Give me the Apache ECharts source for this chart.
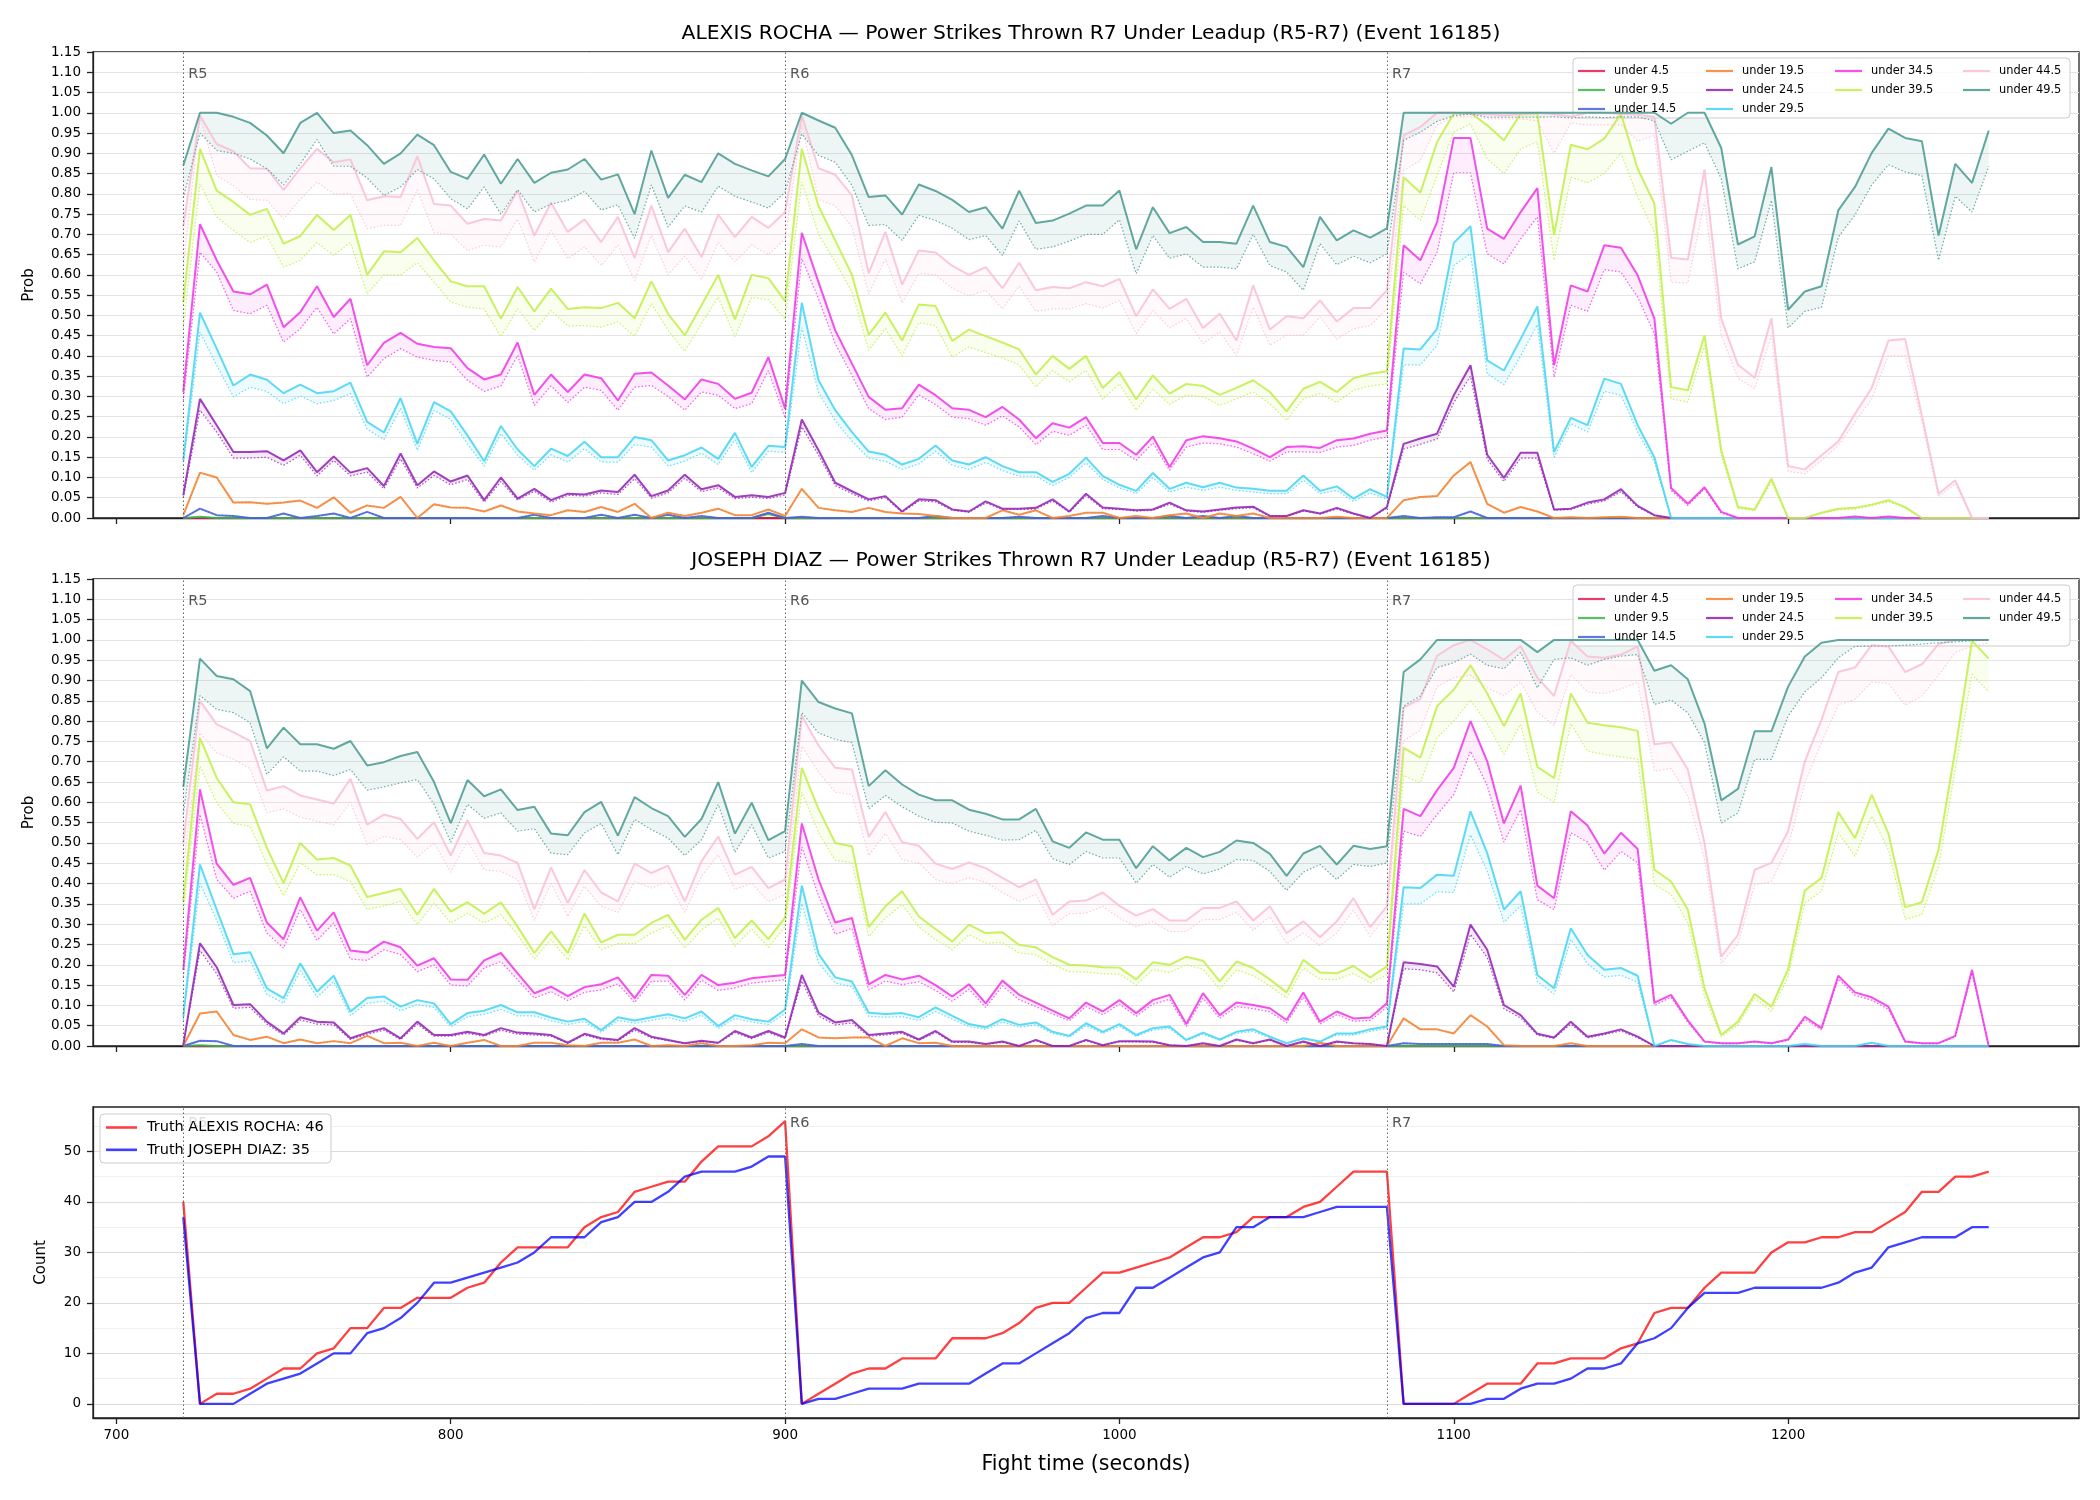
<!doctype html>
<html>
<head>
<meta charset="utf-8">
<title>Power Strikes Thrown R7 Under Leadup</title>
<script src="https://cdn.jsdelivr.net/npm/echarts@6/dist/echarts.min.js"></script>
<style>
  html, body { margin: 0; padding: 0; background: #fff; }
  #chart { width: 2100px; height: 1500px; }
</style>
</head>
<body>
<div id="chart"></div>
<script>
// ---- data ----
var fightTime = [720,725,730,735,740,745,750,755,760,765,
  770,775,780,785,790,795,800,805,810,815,
  820,825,830,835,840,845,850,855,860,865,
  870,875,880,885,890,895,900,905,910,915,
  920,925,930,935,940,945,950,955,960,965,
  970,975,980,985,990,995,1000,1005,1010,1015,
  1020,1025,1030,1035,1040,1045,1050,1055,1060,1065,
  1070,1075,1080,1085,1090,1095,1100,1105,1110,1115,
  1120,1125,1130,1135,1140,1145,1150,1155,1160,1165,
  1170,1175,1180,1185,1190,1195,1200,1205,1210,1215,
  1220,1225,1230,1235,1240,1245,1250,1255,1260];

var bucketNames = ['under 4.5','under 9.5','under 14.5','under 19.5','under 24.5',
  'under 29.5','under 34.5','under 39.5','under 44.5','under 49.5'];
var bucketColors = ['#e6194b','#3cb44b','#4363d8','#f58231','#911eb4',
  '#42d4f4','#f032e6','#bfef45','#fabed4','#469990'];

var xTicks = [700, 800, 900, 1000, 1100, 1200];
var countTicks = [0, 10, 20, 30, 40, 50];
var countMinorTicks = [5, 15, 25, 35, 45, 55];
var rounds = [720, 900, 1080];
var roundNames = ['R5', 'R6', 'R7'];

// ALEXIS ROCHA
var rocha_u4 = [0,0,0,0,0,0,0,0,0,0, 0,0,0,0,0,0,0,0,0,0, 0,0,0,0,0,0,0,0,0,0,
  0,0,0,0,0,0,0,0,0,0, 0,0,0,0,0,0,0,0,0,0, 0,0,0,0,0,0,0,0,0,0, 0,0,0,0,0,0,0,0,0,0,
  0,0,0,0,0,0,0,0,0,0, 0,0,0,0,0,0,0,0,0,0, 0,0,0,0,0,0,0,0,0,0, 0,0,0,0,0,0,0,0,0];
var rocha_u9 = [0,0.003,0,0,0,0,0,0,0,0, 0,0,0,0,0,0,0,0,0,0, 0,0,0,0,0,0,0,0,0,0,
  0,0,0,0,0,0.01,0,0,0,0, 0,0,0,0,0,0,0,0,0,0, 0,0,0,0,0,0,0,0,0,0, 0,0,0,0,0,0,0,0,0,0,
  0,0,0,0,0,0,0,0,0,0, 0,0,0,0,0,0,0,0,0,0, 0,0,0,0,0,0,0,0,0,0, 0,0,0,0,0,0,0,0,0];
var rocha_u14 = [0,0.023,0.007,0.005,0,0,0.011,0,0.005,0.011,
  0,0.015,0,0,0,0,0,0,0,0,
  0,0.008,0,0,0,0.008,0,0.008,0,0.008,
  0,0.005,0,0,0,0.013,0,0.003,0,0,
  0,0,0,0,0,0.005,0,0,0,0,
  0.003,0,0,0,0,0.005,0,0,0,0.005,
  0,0.005,0,0.005,0,0,0,0,0,0,
  0,0,0,0.005,0,0.002,0.002,0.016,0,0,
  0,0,0,0,0,0,0,0,0,0,
  0,0,0,0,0,0,0,0,0,0,
  0,0,0,0,0,0,0,0,0];
var rocha_u19 = [0.007,0.112,0.10,0.038,0.039,0.035,0.038,0.043,0.025,0.051,
  0.013,0.031,0.025,0.052,0,0.034,0.026,0.025,0.016,0.031,
  0.016,0.011,0.007,0.019,0.015,0.027,0.015,0.035,0,0.013,
  0.005,0.013,0.023,0.007,0.007,0.021,0.005,0.072,0.025,0.019,
  0.015,0.025,0.015,0.011,0.01,0.005,0,0,0,0.019,
  0.008,0.019,0,0.005,0.013,0.013,0,0.005,0,0.007,
  0.011,0,0.011,0.005,0.011,0,0,0,0,0.003,
  0,0,0,0.044,0.052,0.054,0.105,0.138,0.035,0.013,
  0.027,0.016,0,0.002,0,0.002,0.003,0,0,0,
  0,0,0,0,0,0,0,0,0,0,
  0,0,0,0,0,0,0,0,0];
var rocha_u24 = [0.056,0.294,0.229,0.163,0.163,0.165,0.142,0.167,0.113,0.152,
  0.112,0.123,0.079,0.159,0.081,0.115,0.09,0.105,0.044,0.10,
  0.048,0.072,0.044,0.06,0.058,0.068,0.064,0.107,0.054,0.068,
  0.107,0.071,0.081,0.052,0.056,0.052,0.062,0.243,0.167,0.087,
  0.066,0.046,0.054,0.016,0.046,0.044,0.021,0.016,0.041,0.023,
  0.023,0.025,0.046,0.016,0.06,0.026,0.023,0.019,0.021,0.038,
  0.019,0.016,0.021,0.026,0.028,0.005,0.005,0.019,0.011,0.025,
  0.011,0,0.027,0.183,0.196,0.208,0.303,0.377,0.156,0.099,
  0.161,0.161,0.021,0.023,0.038,0.046,0.071,0.03,0.007,0,
  0,0,0,0,0,0,0,0,0,0,
  0,0,0,0,0,0,0,0,0];
var rocha_u24_lo = [0.05,0.266,0.212,0.148,0.148,0.15,0.13,0.155,0.104,0.142,
  0.104,0.113,0.072,0.146,0.074,0.105,0.082,0.095,0.039,0.09,
  0.044,0.066,0.039,0.056,0.054,0.062,0.058,0.097,0.049,0.062,
  0.098,0.065,0.074,0.048,0.051,0.048,0.057,0.225,0.155,0.08,
  0.06,0.042,0.05,0.014,0.042,0.04,0.019,0.014,0.037,0.021,
  0.021,0.022,0.042,0.014,0.055,0.023,0.021,0.017,0.019,0.034,
  0.017,0.014,0.019,0.023,0.025,0.004,0.004,0.017,0.01,0.022,
  0.01,0,0.024,0.17,0.182,0.195,0.285,0.35,0.145,0.09,
  0.148,0.148,0.019,0.021,0.034,0.042,0.065,0.027,0.006,0,
  0,0,0,0,0,0,0,0,0,0,
  0,0,0,0,0,0,0,0,0];
var rocha_u29 = [0.142,0.507,0.418,0.327,0.354,0.341,0.308,0.329,0.308,0.313,
  0.334,0.237,0.211,0.296,0.183,0.286,0.263,0.204,0.14,0.227,
  0.169,0.128,0.171,0.153,0.188,0.15,0.15,0.20,0.192,0.142,
  0.155,0.174,0.146,0.21,0.126,0.178,0.175,0.531,0.34,0.266,
  0.212,0.164,0.156,0.132,0.146,0.179,0.142,0.132,0.15,0.128,
  0.113,0.113,0.089,0.109,0.149,0.104,0.082,0.067,0.111,0.072,
  0.087,0.076,0.087,0.075,0.072,0.067,0.067,0.105,0.067,0.078,
  0.048,0.071,0.052,0.418,0.416,0.467,0.679,0.72,0.389,0.364,
  0.442,0.522,0.163,0.247,0.229,0.344,0.331,0.229,0.15,0,
  0,0,0,0,0,0,0,0,0,0,
  0,0,0,0,0,0,0,0,0];
var rocha_u29_lo = [0.13,0.459,0.377,0.299,0.323,0.3125,0.282,0.301,0.282,0.29,
  0.307,0.219,0.194,0.27,0.167,0.266,0.243,0.183,0.128,0.208,
  0.155,0.118,0.156,0.138,0.171,0.138,0.138,0.181,0.175,0.128,
  0.14,0.16,0.132,0.193,0.112,0.165,0.162,0.47,0.31,0.24,
  0.19,0.148,0.14,0.12,0.133,0.165,0.13,0.12,0.137,0.117,
  0.103,0.103,0.08,0.10,0.136,0.095,0.074,0.06,0.099,0.064,
  0.076,0.068,0.076,0.068,0.064,0.06,0.06,0.093,0.06,0.068,
  0.041,0.062,0.046,0.378,0.378,0.426,0.623,0.652,0.356,0.329,
  0.40,0.477,0.15,0.233,0.212,0.3125,0.303,0.212,0.138,0,
  0,0,0,0,0,0,0,0,0,0,
  0,0,0,0,0,0,0,0,0];
var rocha_u34 = [0.311,0.725,0.636,0.559,0.552,0.576,0.471,0.508,0.572,0.496,
  0.541,0.377,0.432,0.457,0.43,0.422,0.419,0.37,0.342,0.354,
  0.433,0.304,0.354,0.311,0.354,0.345,0.29,0.356,0.359,0.327,
  0.293,0.342,0.331,0.294,0.309,0.397,0.27,0.704,0.582,0.463,
  0.381,0.299,0.267,0.271,0.329,0.303,0.271,0.267,0.249,0.274,
  0.243,0.197,0.234,0.223,0.249,0.185,0.185,0.156,0.201,0.126,
  0.192,0.202,0.197,0.189,0.171,0.15,0.175,0.177,0.173,0.192,
  0.196,0.208,0.216,0.673,0.636,0.73,0.9375,0.9375,0.714,0.689,
  0.755,0.814,0.377,0.574,0.559,0.673,0.667,0.599,0.492,0.074,
  0.035,0.076,0.015,0,0,0,0,0,0,0,
  0.004,0,0.004,0,0,0,0,0,0];
var rocha_u34_lo = [0.29,0.656,0.607,0.512,0.504,0.525,0.434,0.467,0.52,0.454,
  0.492,0.348,0.393,0.418,0.397,0.389,0.385,0.34,0.3125,0.326,
  0.401,0.278,0.326,0.285,0.323,0.315,0.266,0.323,0.327,0.30,
  0.266,0.311,0.303,0.27,0.282,0.364,0.247,0.64,0.541,0.43,
  0.352,0.27,0.243,0.249,0.304,0.28,0.249,0.245,0.229,0.252,
  0.225,0.181,0.214,0.204,0.229,0.169,0.169,0.142,0.185,0.118,
  0.175,0.185,0.183,0.175,0.159,0.14,0.163,0.163,0.162,0.175,
  0.179,0.192,0.20,0.607,0.578,0.655,0.852,0.852,0.652,0.627,
  0.689,0.743,0.348,0.525,0.51,0.613,0.607,0.545,0.455,0.068,
  0.031,0.072,0.012,0,0,0,0,0,0,0,
  0.003,0,0.003,0,0,0,0,0,0];
var rocha_u39 = [0.533,0.911,0.808,0.78,0.748,0.763,0.677,0.696,0.748,0.711,
  0.748,0.60,0.658,0.656,0.691,0.636,0.584,0.572,0.572,0.492,
  0.57,0.51,0.566,0.516,0.52,0.518,0.531,0.493,0.584,0.504,
  0.451,0.525,0.60,0.49,0.60,0.592,0.535,0.911,0.77,0.685,
  0.60,0.452,0.507,0.438,0.527,0.523,0.437,0.465,0.449,0.433,
  0.416,0.354,0.40,0.368,0.40,0.321,0.36,0.293,0.352,0.307,
  0.331,0.326,0.304,0.321,0.34,0.311,0.263,0.319,0.336,0.311,
  0.345,0.356,0.362,0.841,0.803,0.928,0.998,1.00,0.969,0.932,
  0.998,0.998,0.699,0.921,0.91,0.936,0.998,0.862,0.776,0.323,
  0.315,0.451,0.167,0.027,0.021,0.097,0,0,0.013,0.023,
  0.025,0.033,0.044,0.027,0,0,0,0,0];
var rocha_u39_lo = [0.47,0.825,0.743,0.71,0.68,0.696,0.619,0.636,0.68,0.648,
  0.68,0.553,0.60,0.60,0.63,0.582,0.533,0.52,0.516,0.447,
  0.516,0.463,0.512,0.474,0.475,0.471,0.484,0.449,0.529,0.463,
  0.411,0.48,0.545,0.447,0.544,0.539,0.49,0.829,0.70,0.632,
  0.558,0.414,0.467,0.40,0.482,0.475,0.397,0.422,0.408,0.395,
  0.378,0.323,0.364,0.336,0.364,0.293,0.331,0.266,0.319,0.28,
  0.303,0.299,0.278,0.294,0.311,0.282,0.241,0.294,0.307,0.285,
  0.315,0.326,0.331,0.771,0.734,0.845,0.952,0.973,0.886,0.85,
  0.911,0.928,0.636,0.841,0.827,0.85,0.901,0.792,0.706,0.294,
  0.286,0.426,0.155,0.023,0.018,0.089,0,0,0.011,0.02,
  0.022,0.03,0.04,0.024,0,0,0,0,0];
var rocha_u44 = [0.72,0.993,0.923,0.905,0.863,0.862,0.81,0.863,0.911,0.878,
  0.885,0.784,0.794,0.792,0.893,0.775,0.771,0.726,0.738,0.734,
  0.808,0.697,0.778,0.706,0.737,0.681,0.743,0.642,0.771,0.656,
  0.714,0.644,0.749,0.693,0.743,0.716,0.755,0.993,0.863,0.847,
  0.796,0.604,0.706,0.576,0.66,0.655,0.622,0.60,0.619,0.567,
  0.63,0.562,0.57,0.567,0.582,0.572,0.59,0.498,0.564,0.516,
  0.541,0.469,0.504,0.438,0.574,0.465,0.498,0.493,0.537,0.485,
  0.518,0.518,0.562,0.944,0.965,1.00,1.00,0.997,0.997,0.993,
  0.997,1.00,0.997,0.99,1.00,1.00,0.997,0.995,0.99,0.642,
  0.638,0.86,0.492,0.378,0.346,0.493,0.128,0.12,0.155,0.189,
  0.257,0.321,0.438,0.442,0.253,0.06,0.093,0,0];
var rocha_u44_lo = [0.62,0.99,0.845,0.82,0.786,0.784,0.738,0.786,0.829,0.80,
  0.80,0.714,0.722,0.722,0.81,0.704,0.70,0.66,0.673,0.669,
  0.738,0.632,0.71,0.64,0.669,0.623,0.673,0.586,0.697,0.60,
  0.646,0.589,0.68,0.632,0.674,0.65,0.689,0.969,0.786,0.771,
  0.718,0.553,0.64,0.531,0.603,0.60,0.567,0.548,0.562,0.516,
  0.572,0.51,0.516,0.516,0.529,0.518,0.537,0.455,0.512,0.469,
  0.492,0.43,0.459,0.401,0.52,0.426,0.451,0.451,0.496,0.441,
  0.467,0.475,0.516,0.858,0.882,0.97,0.99,0.99,0.985,0.985,
  0.985,0.98,0.90,0.975,0.97,0.97,0.97,0.93,0.944,0.582,
  0.58,0.78,0.45,0.345,0.319,0.45,0.115,0.109,0.142,0.179,
  0.237,0.294,0.401,0.401,0.237,0.052,0.085,0,0];
var rocha_u49 = [0.87,1.00,1.00,0.99,0.975,0.944,0.90,0.975,1.00,0.95,
  0.956,0.92,0.874,0.90,0.946,0.92,0.854,0.837,0.897,0.825,
  0.886,0.827,0.852,0.86,0.886,0.835,0.848,0.75,0.907,0.79,
  0.847,0.829,0.90,0.874,0.858,0.843,0.886,1.00,0.981,0.963,
  0.895,0.792,0.796,0.749,0.823,0.807,0.785,0.755,0.767,0.714,
  0.808,0.728,0.734,0.751,0.771,0.771,0.808,0.663,0.767,0.703,
  0.718,0.681,0.681,0.677,0.771,0.681,0.669,0.619,0.743,0.685,
  0.71,0.692,0.715,1.00,1.00,1.00,1.00,1.00,1.00,1.00,
  1.00,1.00,1.00,1.00,1.00,1.00,1.00,1.00,1.00,0.973,
  1.00,1.00,0.913,0.675,0.695,0.866,0.514,0.559,0.572,0.759,
  0.817,0.901,0.961,0.938,0.93,0.697,0.874,0.827,0.956];
var rocha_u49_lo = [0.79,0.95,0.907,0.90,0.886,0.862,0.822,0.874,0.934,0.868,
  0.868,0.839,0.796,0.817,0.86,0.837,0.788,0.763,0.817,0.75,
  0.81,0.755,0.775,0.784,0.806,0.76,0.773,0.69,0.822,0.718,
  0.77,0.755,0.819,0.794,0.78,0.765,0.804,0.948,0.895,0.878,
  0.821,0.722,0.724,0.685,0.747,0.734,0.715,0.687,0.697,0.648,
  0.733,0.663,0.669,0.683,0.70,0.70,0.736,0.603,0.697,0.641,
  0.652,0.619,0.619,0.615,0.70,0.623,0.607,0.562,0.677,0.625,
  0.646,0.63,0.652,0.932,0.952,0.979,0.993,0.997,0.989,0.989,
  0.989,0.989,0.99,0.987,0.99,0.988,0.99,0.99,0.98,0.884,
  0.905,0.926,0.837,0.615,0.632,0.784,0.469,0.51,0.52,0.693,
  0.748,0.822,0.872,0.854,0.845,0.636,0.794,0.755,0.868];

// JOSEPH DIAZ
var diaz_u4 = [0,0,0,0,0,0,0,0,0,0, 0,0,0,0,0,0,0,0,0,0, 0,0,0,0,0,0,0,0,0,0,
  0,0,0,0,0,0,0,0,0,0, 0,0,0,0,0,0,0,0,0,0, 0,0,0,0,0,0,0,0,0,0, 0,0,0,0,0,0,0,0,0,0,
  0,0,0,0,0,0,0,0,0,0, 0,0,0,0,0,0,0,0,0,0, 0,0,0,0,0,0,0,0,0,0, 0,0,0,0,0,0,0,0,0];
var diaz_u9 = [0,0.002,0,0,0,0,0,0,0,0, 0,0,0,0,0,0,0,0,0,0, 0,0,0,0,0,0,0,0,0,0,
  0,0,0,0,0,0,0,0,0,0, 0,0,0,0,0,0,0,0,0,0, 0,0,0,0,0,0,0,0,0,0, 0,0,0,0,0,0,0,0,0,0,
  0,0,0,0,0,0,0,0,0,0, 0,0,0,0,0,0,0,0,0,0, 0,0,0,0,0,0,0,0,0,0, 0,0,0,0,0,0,0,0,0];
var diaz_u14 = [0,0.013,0.012,0,0,0,0,0,0,0,
  0,0,0,0,0,0,0,0,0,0,
  0,0,0,0,0,0,0,0,0,0,
  0,0,0,0,0,0,0,0.005,0,0,
  0,0,0,0,0,0,0,0,0,0,
  0,0,0,0,0,0,0,0,0,0,
  0,0,0,0,0,0,0,0,0,0,
  0,0,0,0.007,0.005,0.005,0.005,0.005,0.005,0,
  0,0,0,0,0,0,0,0,0,0,
  0,0,0,0,0,0,0,0,0,0,
  0,0,0,0,0,0,0,0,0];
var diaz_u19 = [0,0.08,0.085,0.027,0.015,0.023,0.007,0.016,0.007,0.012,
  0.007,0.025,0.007,0.008,0,0.008,0,0.008,0.015,0,
  0,0.008,0.008,0.002,0,0.008,0.008,0.016,0,0.002,
  0,0.007,0,0,0.002,0.008,0.007,0.041,0.021,0.019,
  0.021,0.021,0,0.019,0.007,0.008,0,0,0,0,
  0,0,0,0,0,0,0,0,0,0,
  0,0,0,0,0,0,0,0,0.008,0,
  0,0,0,0.068,0.041,0.041,0.031,0.076,0.048,0.002,
  0,0,0,0.007,0,0,0,0,0,0,
  0,0,0,0,0,0,0,0,0,0,
  0,0,0,0,0,0,0,0,0];
var diaz_u24 = [0.002,0.253,0.194,0.101,0.103,0.06,0.031,0.071,0.06,0.058,
  0.019,0.033,0.044,0.019,0.06,0.027,0.027,0.035,0.027,0.044,
  0.033,0.031,0.027,0.008,0.03,0.019,0.015,0.044,0.023,0.015,
  0.007,0.013,0.008,0.037,0.021,0.037,0.021,0.175,0.082,0.058,
  0.064,0.027,0.031,0.035,0.016,0.037,0.011,0.011,0.005,0.011,
  0,0.015,0,0,0.015,0.002,0.012,0.012,0.011,0.002,
  0,0.007,0,0.016,0.007,0.016,0,0.011,0,0.011,
  0.007,0.005,0,0.206,0.202,0.196,0.146,0.299,0.237,0.101,
  0.076,0.03,0.021,0.06,0.023,0.031,0.041,0.023,0,0,
  0,0,0,0,0,0,0,0,0,0,
  0,0,0,0,0,0,0,0,0];
var diaz_u24_lo = [0.002,0.235,0.178,0.093,0.095,0.054,0.027,0.064,0.054,0.052,
  0.016,0.029,0.039,0.016,0.054,0.024,0.024,0.031,0.024,0.039,
  0.029,0.027,0.024,0.007,0.027,0.016,0.013,0.039,0.02,0.013,
  0.006,0.011,0.007,0.033,0.018,0.033,0.018,0.16,0.074,0.052,
  0.057,0.024,0.027,0.031,0.014,0.033,0.009,0.009,0.004,0.009,
  0,0.013,0,0,0.013,0.002,0.01,0.01,0.009,0.002,
  0,0.006,0,0.014,0.006,0.014,0,0.009,0,0.009,
  0.006,0.004,0,0.19,0.188,0.18,0.133,0.275,0.218,0.092,
  0.069,0.027,0.019,0.054,0.02,0.028,0.037,0.02,0,0,
  0,0,0,0,0,0,0,0,0,0,
  0,0,0,0,0,0,0,0,0];
var diaz_u29 = [0.072,0.447,0.336,0.226,0.231,0.142,0.118,0.204,0.134,0.173,
  0.085,0.118,0.122,0.097,0.113,0.105,0.054,0.081,0.087,0.101,
  0.083,0.083,0.07,0.06,0.067,0.039,0.071,0.063,0.071,0.078,
  0.068,0.085,0.049,0.076,0.066,0.06,0.09,0.395,0.227,0.169,
  0.159,0.082,0.079,0.081,0.071,0.095,0.074,0.054,0.046,0.066,
  0.052,0.058,0.035,0.025,0.056,0.035,0.054,0.027,0.044,0.048,
  0.015,0.033,0.016,0.035,0.041,0.023,0.007,0.019,0.011,0.031,
  0.031,0.041,0.048,0.391,0.389,0.422,0.419,0.578,0.475,0.336,
  0.381,0.175,0.142,0.29,0.224,0.1875,0.192,0.173,0,0.015,
  0.005,0,0,0,0,0,0,0.005,0,0,
  0,0.008,0,0,0,0,0,0,0];
var diaz_u29_lo = [0.065,0.40,0.31,0.205,0.21,0.127,0.105,0.185,0.12,0.158,
  0.075,0.105,0.11,0.087,0.102,0.095,0.047,0.072,0.078,0.09,
  0.074,0.074,0.062,0.053,0.06,0.034,0.063,0.056,0.063,0.07,
  0.06,0.076,0.043,0.068,0.059,0.053,0.08,0.35,0.205,0.155,
  0.146,0.073,0.071,0.072,0.063,0.085,0.066,0.048,0.041,0.059,
  0.046,0.052,0.031,0.022,0.05,0.031,0.048,0.024,0.039,0.043,
  0.013,0.029,0.014,0.031,0.036,0.02,0.006,0.017,0.01,0.027,
  0.027,0.036,0.043,0.35,0.35,0.38,0.378,0.52,0.43,0.305,
  0.345,0.158,0.128,0.262,0.203,0.17,0.174,0.157,0,0.013,
  0.004,0,0,0,0,0,0,0.004,0,0,
  0,0.007,0,0,0,0,0,0,0];
var diaz_u34 = [0.1875,0.632,0.449,0.397,0.414,0.304,0.263,0.366,0.284,0.329,
  0.235,0.23,0.257,0.243,0.198,0.216,0.164,0.163,0.211,0.229,
  0.179,0.13,0.146,0.123,0.145,0.152,0.169,0.118,0.175,0.173,
  0.126,0.175,0.15,0.156,0.167,0.171,0.175,0.548,0.41,0.304,
  0.315,0.152,0.175,0.164,0.173,0.15,0.122,0.152,0.105,0.161,
  0.126,0.107,0.087,0.068,0.107,0.085,0.113,0.081,0.113,0.126,
  0.054,0.13,0.076,0.107,0.101,0.093,0.064,0.132,0.06,0.085,
  0.068,0.07,0.105,0.584,0.566,0.63,0.685,0.80,0.701,0.548,
  0.641,0.395,0.364,0.578,0.543,0.474,0.525,0.485,0.107,0.126,
  0.063,0.011,0.007,0.007,0.011,0.007,0.016,0.072,0.044,0.173,
  0.132,0.12,0.097,0.011,0.007,0.007,0.025,0.1875,0];
var diaz_u34_lo = [0.17,0.57,0.41,0.364,0.381,0.278,0.241,0.336,0.26,0.303,
  0.214,0.211,0.237,0.225,0.183,0.20,0.15,0.148,0.192,0.208,
  0.163,0.118,0.134,0.112,0.132,0.138,0.153,0.107,0.159,0.16,
  0.113,0.162,0.137,0.143,0.155,0.159,0.163,0.49,0.37,0.275,
  0.29,0.138,0.16,0.151,0.158,0.137,0.11,0.14,0.095,0.148,
  0.114,0.097,0.079,0.062,0.097,0.077,0.103,0.073,0.103,0.115,
  0.048,0.118,0.068,0.097,0.092,0.084,0.057,0.12,0.054,0.077,
  0.061,0.063,0.095,0.529,0.516,0.57,0.619,0.726,0.641,0.502,
  0.582,0.36,0.336,0.525,0.502,0.433,0.479,0.451,0.10,0.12,
  0.058,0.01,0.006,0.006,0.01,0.006,0.014,0.066,0.04,0.165,
  0.125,0.113,0.09,0.01,0.006,0.006,0.022,0.18,0];
var diaz_u39 = [0.356,0.759,0.66,0.60,0.595,0.488,0.401,0.50,0.459,0.463,
  0.444,0.367,0.377,0.387,0.323,0.387,0.331,0.354,0.326,0.354,
  0.294,0.229,0.282,0.229,0.326,0.255,0.274,0.274,0.303,0.323,
  0.262,0.311,0.34,0.266,0.309,0.263,0.317,0.685,0.584,0.50,
  0.492,0.293,0.344,0.381,0.319,0.288,0.257,0.299,0.278,0.28,
  0.249,0.243,0.219,0.20,0.198,0.194,0.193,0.164,0.206,0.20,
  0.22,0.21,0.159,0.208,0.192,0.164,0.132,0.212,0.181,0.179,
  0.197,0.169,0.196,0.734,0.71,0.837,0.878,0.9375,0.868,0.788,
  0.868,0.6875,0.66,0.868,0.796,0.79,0.785,0.776,0.434,0.405,
  0.336,0.142,0.027,0.06,0.128,0.097,0.189,0.383,0.414,0.576,
  0.512,0.619,0.523,0.342,0.354,0.484,0.73,0.998,0.954];
var diaz_u39_lo = [0.33,0.689,0.599,0.548,0.541,0.447,0.37,0.451,0.422,0.422,
  0.405,0.336,0.345,0.356,0.299,0.352,0.303,0.327,0.303,0.323,
  0.274,0.214,0.262,0.212,0.296,0.237,0.252,0.252,0.278,0.296,
  0.241,0.286,0.315,0.245,0.288,0.243,0.294,0.625,0.525,0.457,
  0.452,0.27,0.315,0.348,0.293,0.262,0.237,0.274,0.253,0.255,
  0.229,0.225,0.20,0.183,0.182,0.178,0.177,0.15,0.188,0.181,
  0.20,0.189,0.14,0.1875,0.173,0.148,0.118,0.192,0.164,0.164,
  0.179,0.155,0.175,0.666,0.648,0.759,0.80,0.852,0.794,0.718,
  0.792,0.625,0.60,0.794,0.726,0.718,0.712,0.706,0.397,0.373,
  0.303,0.122,0.023,0.052,0.118,0.085,0.171,0.352,0.381,0.525,
  0.467,0.566,0.483,0.3125,0.323,0.442,0.681,0.915,0.872];
var diaz_u44 = [0.50,0.85,0.792,0.773,0.751,0.629,0.64,0.617,0.607,0.597,
  0.658,0.545,0.57,0.559,0.51,0.551,0.469,0.556,0.475,0.469,
  0.451,0.337,0.44,0.352,0.433,0.378,0.356,0.449,0.426,0.444,
  0.356,0.455,0.516,0.422,0.441,0.389,0.41,0.813,0.74,0.685,
  0.681,0.515,0.576,0.502,0.493,0.449,0.436,0.452,0.438,0.414,
  0.391,0.41,0.323,0.356,0.358,0.378,0.345,0.321,0.337,0.309,
  0.309,0.34,0.34,0.356,0.309,0.344,0.278,0.307,0.268,0.307,
  0.364,0.293,0.344,0.833,0.855,0.961,0.987,1.00,0.977,0.951,
  0.985,0.907,0.862,0.998,0.959,0.956,0.964,0.984,0.743,0.748,
  0.681,0.50,0.22,0.274,0.434,0.451,0.529,0.701,0.804,0.921,
  0.932,0.987,0.984,0.921,0.94,0.99,1.00,1.00,1.00];
var diaz_u44_lo = [0.44,0.771,0.722,0.706,0.683,0.574,0.584,0.564,0.553,0.545,
  0.60,0.496,0.516,0.508,0.465,0.50,0.428,0.504,0.434,0.43,
  0.41,0.309,0.401,0.319,0.393,0.344,0.329,0.405,0.389,0.405,
  0.329,0.418,0.471,0.385,0.401,0.356,0.373,0.738,0.674,0.625,
  0.619,0.469,0.523,0.459,0.451,0.41,0.40,0.414,0.403,0.378,
  0.356,0.373,0.296,0.326,0.327,0.344,0.315,0.294,0.306,0.282,
  0.282,0.311,0.311,0.329,0.285,0.319,0.252,0.278,0.247,0.278,
  0.334,0.27,0.323,0.751,0.778,0.885,0.907,0.913,0.882,0.863,
  0.896,0.822,0.789,0.915,0.872,0.868,0.879,0.896,0.677,0.683,
  0.615,0.459,0.203,0.252,0.397,0.405,0.492,0.648,0.747,0.839,
  0.854,0.896,0.893,0.839,0.862,0.913,0.969,0.985,0.993];
var diaz_u49 = [0.638,0.954,0.911,0.903,0.874,0.733,0.784,0.743,0.743,0.732,
  0.751,0.691,0.699,0.714,0.724,0.65,0.549,0.655,0.615,0.632,
  0.581,0.589,0.523,0.519,0.576,0.601,0.518,0.613,0.586,0.566,
  0.515,0.559,0.65,0.523,0.599,0.507,0.529,0.90,0.847,0.831,
  0.819,0.64,0.679,0.644,0.619,0.605,0.605,0.582,0.572,0.558,
  0.558,0.584,0.504,0.488,0.526,0.508,0.508,0.438,0.492,0.457,
  0.488,0.465,0.478,0.506,0.50,0.473,0.419,0.474,0.493,0.447,
  0.493,0.485,0.492,0.921,0.952,1.00,1.00,1.00,1.00,1.00,
  1.00,0.97,1.00,1.00,1.00,1.00,1.00,1.00,0.924,0.9375,
  0.903,0.794,0.605,0.633,0.775,0.775,0.885,0.959,0.993,1.00,
  1.00,1.00,1.00,1.00,1.00,1.00,1.00,1.00,1.00];
var diaz_u49_lo = [0.57,0.863,0.829,0.821,0.796,0.669,0.712,0.677,0.677,0.666,
  0.681,0.63,0.638,0.648,0.656,0.595,0.502,0.595,0.561,0.574,
  0.529,0.535,0.475,0.471,0.525,0.548,0.471,0.558,0.533,0.512,
  0.469,0.508,0.595,0.477,0.545,0.463,0.479,0.821,0.771,0.755,
  0.747,0.584,0.617,0.589,0.566,0.551,0.549,0.529,0.519,0.507,
  0.508,0.531,0.461,0.447,0.479,0.463,0.463,0.401,0.447,0.416,
  0.442,0.424,0.436,0.459,0.457,0.43,0.383,0.428,0.447,0.41,
  0.447,0.442,0.451,0.837,0.862,0.932,0.944,0.965,0.9375,0.929,
  0.969,0.882,0.952,0.956,0.9375,0.952,0.96,0.964,0.841,0.852,
  0.82,0.747,0.549,0.574,0.706,0.706,0.8125,0.872,0.907,0.956,
  0.984,0.985,0.985,0.987,0.99,0.993,0.995,0.998,1.0];

// running truth counts
var rochaCount = [40,0,2,2,3,5,7,7,10,11,
  15,15,19,19,21,21,21,23,24,28,
  31,31,31,31,35,37,38,42,43,44,
  44,48,51,51,51,53,56,0,2,4,
  6,7,7,9,9,9,13,13,13,14,
  16,19,20,20,23,26,26,27,28,29,
  31,33,33,34,37,37,37,39,40,43,
  46,46,46,0,0,0,0,2,4,4,
  4,8,8,9,9,9,11,12,18,19,
  19,23,26,26,26,30,32,32,33,33,
  34,34,36,38,42,42,45,45,46];
var diazCount = [37,0,0,0,2,4,5,6,8,10,
  10,14,15,17,20,24,24,25,26,27,
  28,30,33,33,33,36,37,40,40,42,
  45,46,46,46,47,49,49,0,1,1,
  2,3,3,3,4,4,4,4,6,8,
  8,10,12,14,17,18,18,23,23,25,
  27,29,30,35,35,37,37,37,38,39,
  39,39,39,0,0,0,0,0,1,1,
  3,4,4,5,7,7,8,12,13,15,
  19,22,22,22,23,23,23,23,23,24,
  26,27,31,32,33,33,33,35,35];

var rochaHi = [rocha_u4, rocha_u9, rocha_u14, rocha_u19, rocha_u24, rocha_u29, rocha_u34, rocha_u39, rocha_u44, rocha_u49];
var rochaLo = [rocha_u4, rocha_u9, rocha_u14, rocha_u19, rocha_u24_lo, rocha_u29_lo, rocha_u34_lo, rocha_u39_lo, rocha_u44_lo, rocha_u49_lo];
var diazHi = [diaz_u4, diaz_u9, diaz_u14, diaz_u19, diaz_u24, diaz_u29, diaz_u34, diaz_u39, diaz_u44, diaz_u49];
var diazLo = [diaz_u4, diaz_u9, diaz_u14, diaz_u19, diaz_u24_lo, diaz_u29_lo, diaz_u34_lo, diaz_u39_lo, diaz_u44_lo, diaz_u49_lo];

// quick length check so a typo shows up as an error
[rochaHi, rochaLo, diazHi, diazLo, [rochaCount, diazCount]].forEach(function (list, li) {
  list.forEach(function (arr, k) {
    if (arr.length !== fightTime.length) throw new Error('bad length list ' + li + ' idx ' + k + ': ' + arr.length);
  });
});

// ---- chart ----
var FONT = 'DejaVu Sans';
var FRAME = '#222222';

function pairs(vals) {
  return fightTime.map(function (t, i) { return [t, vals[i]]; });
}

function hexA(hex, a) {
  var n = parseInt(hex.slice(1), 16);
  return 'rgba(' + (n >> 16 & 255) + ',' + (n >> 8 & 255) + ',' + (n & 255) + ',' + a + ')';
}

function bandRenderer(hi, lo, fill) {
  return function (params, api) {
    var pts = [];
    for (var i = 0; i < fightTime.length; i++) pts.push(api.coord([fightTime[i], hi[i]]));
    for (var j = fightTime.length - 1; j >= 0; j--) pts.push(api.coord([fightTime[j], lo[j]]));
    return { type: 'polygon', shape: { points: pts }, style: { fill: fill }, silent: true };
  };
}

function roundMarks(labelY) {
  return {
    markLine: {
      silent: true, symbol: ['none', 'none'], animation: false,
      label: { show: false },
      lineStyle: { type: [1.5, 2.5], color: '#666', width: 1 },
      data: rounds.map(function (r) { return { xAxis: r }; })
    },
    markPoint: {
      silent: true, z: 2, symbol: 'circle', symbolSize: 0, animation: false,
      label: { show: true, position: 'right', distance: 5, formatter: '{b}',
        color: '#555', fontSize: 14.5, fontFamily: FONT },
      data: rounds.map(function (r, i) { return { name: roundNames[i], coord: [r, labelY] }; })
    }
  };
}

var series = [];

function addProbPanel(gi, hiList, loList) {
  for (var k = 0; k < bucketNames.length; k++) {
    var c = bucketColors[k], hi = hiList[k], lo = loList[k];
    if (hi !== lo) {
      series.push({
        type: 'custom', xAxisIndex: gi, yAxisIndex: gi, silent: true,
        data: [[fightTime[0], hi[0]]],
        renderItem: bandRenderer(hi, lo, hexA(c, 0.09))
      });
    }
    series.push({
      type: 'line', name: bucketNames[k] + ' (lo)', xAxisIndex: gi, yAxisIndex: gi,
      data: pairs(lo), symbol: 'none', silent: true,
      itemStyle: { color: c },
      lineStyle: { color: hexA(c, 0.8), width: 1.2, type: [1.5, 2] }
    });
    var s = {
      type: 'line', name: bucketNames[k], xAxisIndex: gi, yAxisIndex: gi,
      data: pairs(hi), symbol: 'none', silent: true,
      itemStyle: { color: hexA(c, 0.85) },
      lineStyle: { color: hexA(c, 0.85), width: 2 }
    };
    if (k === 0) {
      var m = roundMarks(1.095);
      s.markLine = m.markLine; s.markPoint = m.markPoint;
    }
    series.push(s);
  }
}

addProbPanel(0, rochaHi, rochaLo);
addProbPanel(1, diazHi, diazLo);

var countMarks = roundMarks(55.6);
series.push({
  type: 'line', name: 'Truth ALEXIS ROCHA: 46', xAxisIndex: 2, yAxisIndex: 2,
  data: pairs(rochaCount), symbol: 'none', silent: true,
  itemStyle: { color: 'rgba(255,0,0,0.75)' },
  lineStyle: { color: 'rgba(255,0,0,0.75)', width: 2.3 },
  markLine: countMarks.markLine, markPoint: countMarks.markPoint
});
series.push({
  type: 'line', name: 'Truth JOSEPH DIAZ: 35', xAxisIndex: 2, yAxisIndex: 2,
  data: pairs(diazCount), symbol: 'none', silent: true,
  itemStyle: { color: 'rgba(0,0,255,0.75)' },
  lineStyle: { color: 'rgba(0,0,255,0.75)', width: 2.3 }
});

var gridBase = { left: 93, right: 21, show: true, borderColor: FRAME, borderWidth: 1.3, backgroundColor: 'transparent' };
var grids = [
  Object.assign({ top: 52, height: 466 }, gridBase),
  Object.assign({ top: 579, height: 467 }, gridBase),
  Object.assign({ top: 1107, height: 311 }, gridBase)
];

var xAxes = [0, 1, 2].map(function (i) {
  return {
    type: 'value', gridIndex: i, min: 693, max: 1287,
    axisLine: { show: true, onZero: false, lineStyle: { color: FRAME, width: 1.3 } },
    axisTick: { show: true, length: 6, customValues: xTicks, lineStyle: { color: FRAME, width: 1.3 } },
    axisLabel: { show: i === 2, customValues: xTicks, fontSize: 13.5, fontFamily: FONT, color: '#000', margin: 10,
      formatter: function (v) { return String(v); } },
    splitLine: { show: false },
    name: i === 2 ? 'Fight time (seconds)' : '',
    nameLocation: 'middle', nameGap: 36,
    nameTextStyle: { fontSize: 20.5, fontFamily: FONT, color: '#000' }
  };
});

function probAxis(i) {
  return {
    type: 'value', gridIndex: i, min: 0, max: 1.15, interval: 0.05,
    axisLine: { show: true, onZero: false, lineStyle: { color: FRAME, width: 1.3 } },
    axisTick: { show: true, length: 6, lineStyle: { color: FRAME, width: 1.3 } },
    axisLabel: { fontSize: 13.5, fontFamily: FONT, color: '#000', margin: 12,
      formatter: function (v) { return v.toFixed(2); } },
    splitLine: { show: true, lineStyle: { color: '#e4e4e4', width: 1 } },
    name: 'Prob', nameLocation: 'middle', nameGap: 56,
    nameTextStyle: { fontSize: 15, fontFamily: FONT, color: '#000' }
  };
}

var yAxes = [
  probAxis(0),
  probAxis(1),
  {
    type: 'value', gridIndex: 2, min: -2.8, max: 58.8,
    axisLine: { show: true, onZero: false, lineStyle: { color: FRAME, width: 1.3 } },
    axisTick: { show: true, length: 6, customValues: countTicks, lineStyle: { color: FRAME, width: 1.3 } },
    axisLabel: { customValues: countTicks, fontSize: 13.5, fontFamily: FONT, color: '#000', margin: 12 },
    splitLine: { show: true, lineStyle: { color: '#dcdcdc', width: 1 } },
    name: 'Count', nameLocation: 'middle', nameGap: 44,
    nameTextStyle: { fontSize: 15, fontFamily: FONT, color: '#000' }
  },
  {
    type: 'value', gridIndex: 2, min: -2.8, max: 58.8, position: 'left',
    axisLine: { show: false }, axisLabel: { show: false },
    axisTick: { show: false, customValues: countMinorTicks },
    splitLine: { show: true, lineStyle: { color: '#efefef', width: 1 } }
  }
];

function probLegends(topY) {
  var cols = [[0, 1, 2], [3, 4, 5], [6, 7], [8, 9]];
  var lefts = [1578, 1706, 1835, 1963];
  return cols.map(function (col, i) {
    return {
      orient: 'vertical', left: lefts[i], top: topY, padding: 0,
      icon: 'rect', itemGap: 5, itemWidth: 27, itemHeight: 2.2, selectedMode: false, z: 4,
      data: col.map(function (k) { return bucketNames[k]; }),
      textStyle: { fontSize: 11.4, lineHeight: 14, fontFamily: FONT, color: '#000', padding: [0, 0, 0, 4] }
    };
  });
}

var legends = probLegends(64).concat(probLegends(592)).concat([{
  orient: 'vertical', left: 106, top: 1119, padding: 0,
  icon: 'rect', itemGap: 5.3, itemWidth: 31, itemHeight: 2.6, selectedMode: false, z: 4,
  data: ['Truth ALEXIS ROCHA: 46', 'Truth JOSEPH DIAZ: 35'],
  textStyle: { fontSize: 14.5, lineHeight: 17, fontFamily: FONT, color: '#000', padding: [0, 0, 0, 5] }
}]);

function legendFrame(x, y, w, h) {
  return {
    type: 'rect', z: 3, silent: true,
    shape: { x: x, y: y, width: w, height: h, r: 4 },
    style: { fill: 'rgba(255,255,255,0.8)', stroke: '#cccccc', lineWidth: 1 }
  };
}

var chart = echarts.init(document.getElementById('chart'), null, { renderer: 'canvas' });
chart.setOption({
  animation: false,
  backgroundColor: '#ffffff',
  textStyle: { fontFamily: FONT },
  title: [
    { text: 'ALEXIS ROCHA \u2014 Power Strikes Thrown R7 Under Leadup (R5-R7) (Event 16185)',
      left: 1086, top: 19, textAlign: 'center',
      textStyle: { fontSize: 20.3, fontWeight: 'normal', fontFamily: FONT, color: '#000' } },
    { text: 'JOSEPH DIAZ \u2014 Power Strikes Thrown R7 Under Leadup (R5-R7) (Event 16185)',
      left: 1086, top: 546, textAlign: 'center',
      textStyle: { fontSize: 20.3, fontWeight: 'normal', fontFamily: FONT, color: '#000' } }
  ],
  grid: grids,
  xAxis: xAxes,
  yAxis: yAxes,
  legend: legends,
  graphic: [
    legendFrame(1573, 58, 497, 60),
    legendFrame(1573, 585, 497, 61),
    legendFrame(100, 1114, 231, 49)
  ],
  series: series
});
</script>
</body>
</html>
